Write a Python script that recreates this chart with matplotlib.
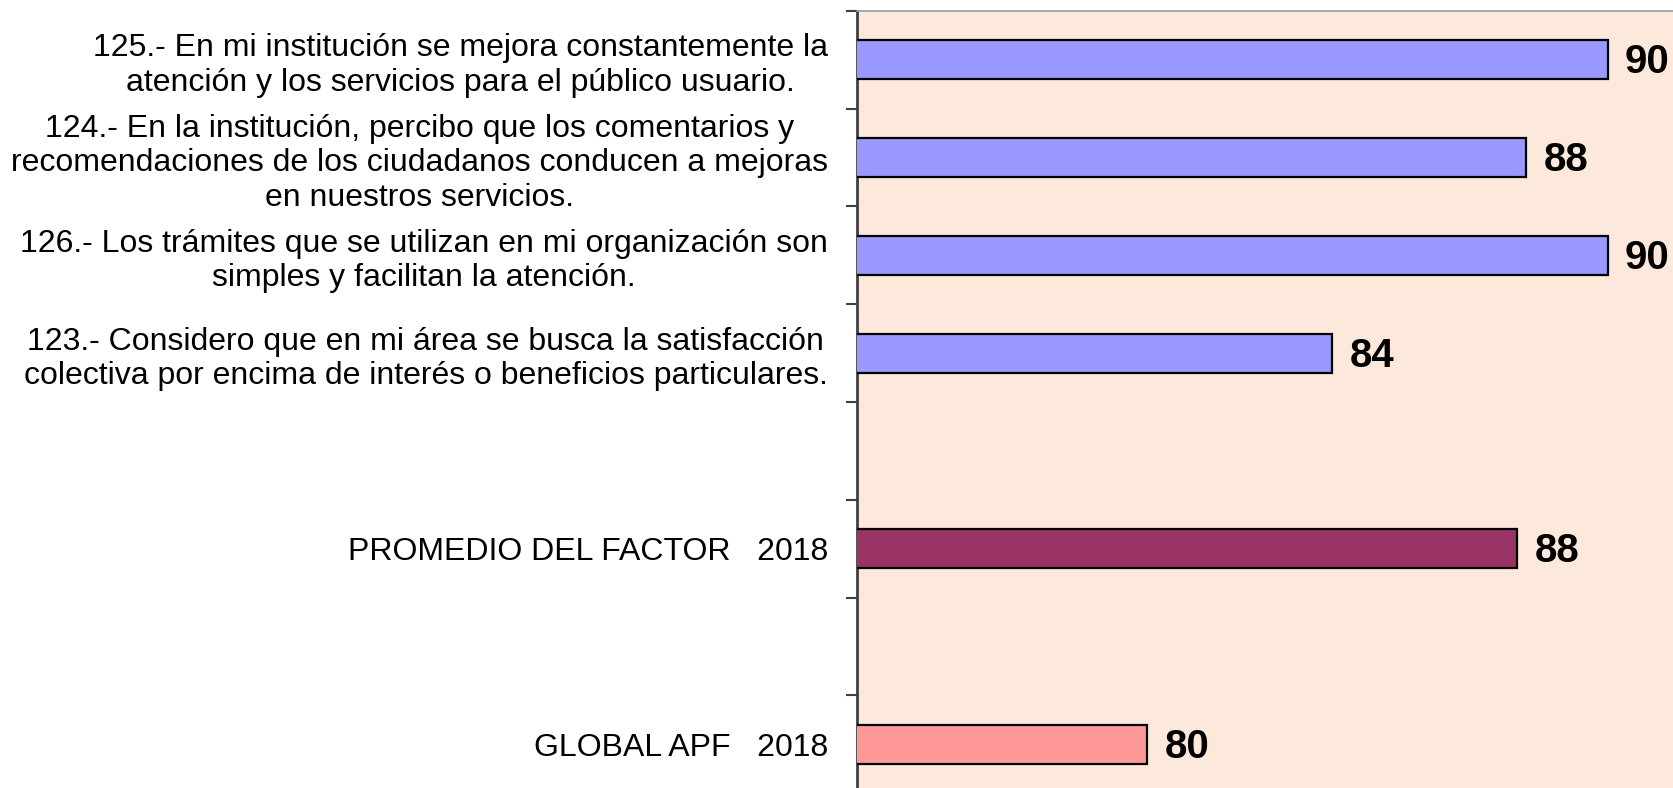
import matplotlib

matplotlib.use("Agg")

import matplotlib.pyplot as plt
import numpy as np

plt.rcParams["font.family"] = ["Liberation Sans", "DejaVu Sans"]

# categories top to bottom, with their row slot (gaps at slots 4 and 6)
CATEGORIES = [
    "125.- En mi institución se mejora constantemente la\natención y los servicios para el público usuario.",
    "124.- En la institución, percibo que los comentarios y\nrecomendaciones de los ciudadanos conducen a mejoras\nen nuestros servicios.",
    "126.- Los trámites que se utilizan en mi organización son\nsimples y facilitan la atención.",
    "123.- Considero que en mi área se busca la satisfacción\ncolectiva por encima de interés o beneficios particulares.",
    "PROMEDIO DEL FACTOR   2018",
    "GLOBAL APF   2018",
]
VALUES = [90.1, 88.3, 90.1, 84.0, 88.1, 79.9]
SLOTS = [0, 1, 2, 3, 5, 7]
N_SLOTS = 8

BAR_COLORS = ["#9999FF", "#9999FF", "#9999FF", "#9999FF", "#993366", "#FF9999"]
PLOT_BG = "#FDE9DB"

W, H = 1673, 788
fig = plt.figure(figsize=(W / 100, H / 100), dpi=100)
ax = fig.add_axes([857 / W, 1 - 793 / H, 1 - 857 / W, (793 - 11) / H])
ax.set_facecolor(PLOT_BG)

ax.barh(SLOTS, VALUES, height=0.4, color=BAR_COLORS, edgecolor="black", linewidth=1.6, zorder=3)

for y, v in zip(SLOTS, VALUES):
    ax.annotate(
        f"{v:.0f}",
        xy=(v, y),
        xytext=(12.5, -1.8),
        textcoords="offset points",
        ha="left",
        va="center",
        fontsize=29,
        fontweight="bold",
        color="black",
        annotation_clip=False,
    )

ax.set_xlim(73.48, 91.55)
ax.set_ylim(N_SLOTS - 0.5, -0.5)

ax.set_yticks(SLOTS)
ax.set_yticklabels(CATEGORIES, fontsize=23, multialignment="center", linespacing=1.2)
ax.tick_params(axis="y", which="major", length=0, pad=21)
ax.set_yticks(np.arange(N_SLOTS + 1) - 0.5, minor=True)
ax.tick_params(axis="y", which="minor", length=8, width=1.5, color="#404040", direction="out")
ax.set_xticks([])

ax.spines["left"].set_color("#404040")
ax.spines["left"].set_linewidth(2)
ax.spines["top"].set_color("#A0A0A0")
ax.spines["top"].set_linewidth(1.2)
ax.spines["right"].set_visible(False)
ax.spines["bottom"].set_visible(False)

fig.savefig("out.png", dpi=100, facecolor="white")
